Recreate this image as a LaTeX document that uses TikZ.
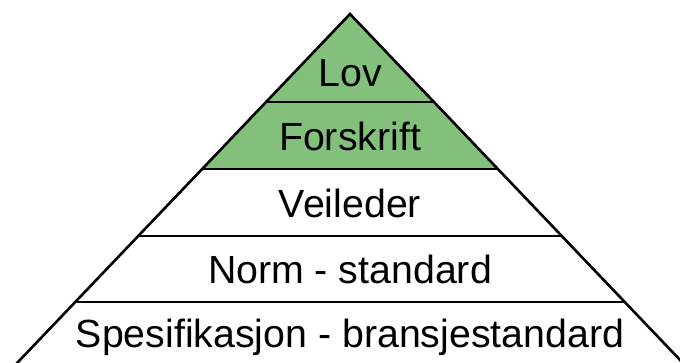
\documentclass[tikz,border=0pt]{standalone}
\usepackage{fontspec}
\setmainfont{Liberation Sans}
\definecolor{lawgreen}{RGB}{130,192,124}
\begin{document}
\begin{tikzpicture}[x=1pt,y=-1pt,
  edge/.style={line width=2.6pt,black,line join=miter},
  label/.style={anchor=base,font=\fontsize{39.3}{41}\selectfont,inner sep=0pt}]
\useasboundingbox (0,0) rectangle (680,362);
\clip (0,0) rectangle (680,362);
\coordinate (apex) at (350,14);
\coordinate (l1) at (266,102); \coordinate (r1) at (434,102);
\coordinate (l2) at (202,169); \coordinate (r2) at (498,169);
\coordinate (l3) at (138,236); \coordinate (r3) at (562,236);
\coordinate (l4) at (75,302);  \coordinate (r4) at (625,302);
\coordinate (lb) at (0,380.9); \coordinate (rb) at (700,380.9);
\fill[lawgreen] (apex) -- (l2) -- (r2) -- cycle;
\draw[edge] (l1) -- (r1);
\draw[edge] (l2) -- (r2);
\draw[edge] (l3) -- (r3);
\draw[edge] (l4) -- (r4);
\draw[edge] (lb) -- (apex) -- (rb);
\node[label] (lov) at (350,86) {Lov};
\node[label] (forskrift) at (350,150) {Forskrift};
\node[label] (veileder) at (350,217) {Veileder};
\node[label] (norm) at (350,283) {Norm - standard};
\node[label] (spes) at (350,347) {Spesifikasjon - bransjestandard};
\end{tikzpicture}
\end{document}
